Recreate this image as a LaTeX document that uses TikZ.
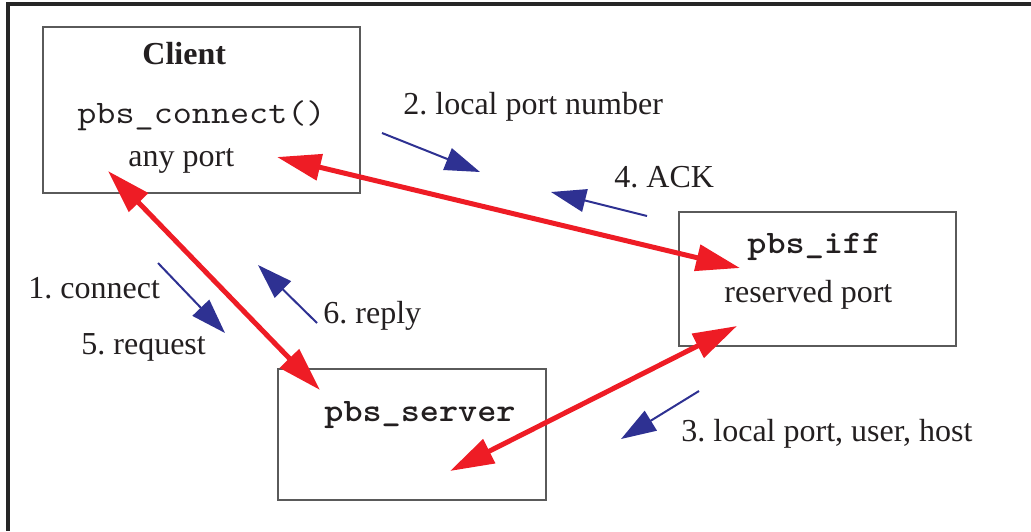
\documentclass[tikz,border=0pt]{standalone}
\usepackage{fontspec}
\usepackage{graphicx}
\setmainfont{Liberation Serif}
\usetikzlibrary{arrows.meta}
\definecolor{inkred}{HTML}{EE1C25}
\definecolor{inkblue}{HTML}{2E3192}
\definecolor{ink}{HTML}{231F20}
\definecolor{boxgray}{HTML}{5A5A5A}
% typewriter text, widened to Courier proportions
\newcommand{\codetext}[1]{\scalebox{1.13}[1]{\fontsize{16.4}{18}\selectfont\ttfamily #1}}
\newcommand{\codebold}[1]{\scalebox{1.11}[1]{\fontsize{16.4}{18}\selectfont\ttfamily\bfseries #1}}
\begin{document}
\frenchspacing
\begin{tikzpicture}[x=0.5pt,y=-0.5pt,
  frame/.style={line width=1.6pt,draw=black!85},
  box/.style={draw=boxgray,line width=0.8pt,rectangle,inner sep=0pt},
  txt/.style={inner sep=0pt,anchor=base west,text=ink,font=\fontsize{16}{18}\selectfont},
  link/.style={draw=inkred,line width=2.5pt,
    {Triangle[length=22pt,width=13pt]}-{Triangle[length=22pt,width=13pt]}},
  msg/.style={draw=inkblue,line width=1pt,-{Triangle[length=17.5pt,width=11.5pt]}}]
\useasboundingbox (0,0) rectangle (1031,531);

% outer frame (top and left edges)
\draw[frame] (1031,4) -- (8,4) -- (8,531);

% boxes
\node[box,minimum width=158.5pt,minimum height=83pt] (client) at (201.5,110) {};
\node[box,minimum width=138.5pt,minimum height=67pt] (iff) at (817.5,279) {};
\node[box,minimum width=134pt,minimum height=65.5pt] (server) at (412,434.5) {};

% box texts
\node[txt,font=\fontsize{16}{18}\selectfont\bfseries] (clientlbl) at (142,64) {Client};
\node[txt] (connect) at (77,123) {\codetext{pbs\_connect()}};
\node[txt] (anyport) at (128,166) {any port};
\node[txt] (ifflbl) at (747,253) {\codebold{pbs\_iff}};
\node[txt] (resport) at (724,302) {reserved port};
\node[txt] (serverlbl) at (324,421) {\codebold{pbs\_server}};

% end points of the connections inside the boxes
\coordinate (c1) at (277,157);
\coordinate (i1) at (740,268);
\coordinate (c2) at (108,171);
\coordinate (s2) at (320,390);
\coordinate (i3) at (737,326);
\coordinate (s3) at (450,471);

% connections
\draw[link] (c1) -- (i1);
\draw[link] (c2) -- (s2);
\draw[link] (i3) -- (s3);

% message arrows
\coordinate (m2a) at (382,133);
\coordinate (m2b) at (480,172);
\coordinate (m4a) at (647,216);
\coordinate (m4b) at (551,192);
\coordinate (m1a) at (158,263);
\coordinate (m1b) at (225,333);
\coordinate (m6a) at (317,323);
\coordinate (m6b) at (258,265);
\coordinate (m3a) at (699,391);
\coordinate (m3b) at (621,439);
\draw[msg] (m2a) -- (m2b);
\draw[msg] (m4a) -- (m4b);
\draw[msg] (m1a) -- (m1b);
\draw[msg] (m6a) -- (m6b);
\draw[msg] (m3a) -- (m3b);

% message labels
\node[txt] (l2) at (403,114) {2. local port number};
\node[txt] (l4) at (614,187) {4. ACK};
\node[txt] (l1) at (28,298) {1. connect};
\node[txt] (l5) at (81,354) {5. request};
\node[txt] (l6) at (323,323) {6. reply};
\node[txt] (l3) at (681,441) {3. local port, user, host};
\end{tikzpicture}
\end{document}
